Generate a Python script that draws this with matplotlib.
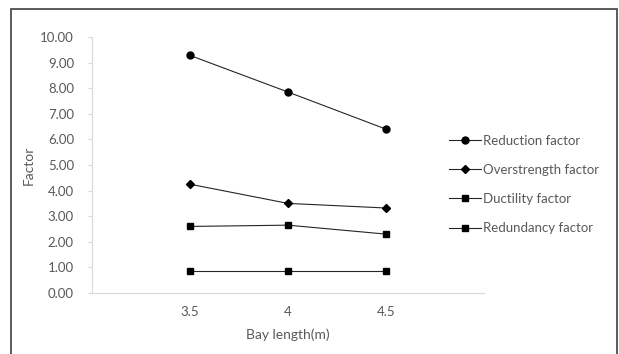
import matplotlib
matplotlib.use("Agg")
import matplotlib.pyplot as plt
from matplotlib.patches import Rectangle

# dados
bay_length = [3.5, 4.0, 4.5]
reduction = [9.28, 7.85, 6.40]
overstrength = [4.25, 3.50, 3.32]
ductility = [2.60, 2.65, 2.30]
redundancy = [0.85, 0.85, 0.85]

series = [
    ("Reduction factor", reduction, "o", 5.0),
    ("Overstrength factor", overstrength, "D", 3.6),
    ("Ductility factor", ductility, "s", 5.0),
    ("Redundancy factor", redundancy, "s", 5.0),
]

plt.rcParams["font.family"] = ["Lato", "DejaVu Sans"]
cinza = "#595959"

fig = plt.figure(figsize=(6.19, 3.54), dpi=100, facecolor="white")
ax = fig.add_axes([0.1486, 0.1723, 0.782 - 0.1486, 0.8955 - 0.1723])

for nome, valores, marcador, tam in series:
    ax.plot(bay_length, valores, color="#262626", linewidth=0.8,
            marker=marcador, markersize=tam, markerfacecolor="black",
            markeredgecolor="black", label=nome)

ax.set_xlim(3.0, 5.0)
ax.set_ylim(0, 10)
ax.set_xticks(bay_length)
ax.set_xticklabels(["3.5", "4", "4.5"])
ax.set_yticks(range(0, 11))
ax.set_yticklabels([f"{v:.2f}" for v in range(0, 11)])

for lado in ["top", "right"]:
    ax.spines[lado].set_visible(False)
for lado in ["left", "bottom"]:
    ax.spines[lado].set_color("#d9d9d9")
    ax.spines[lado].set_linewidth(0.8)

ax.tick_params(axis="y", colors=cinza, labelsize=9.5, length=3, width=0.8,
               color="#d9d9d9", pad=10)
ax.tick_params(axis="x", colors=cinza, labelsize=9.5, length=0, pad=9)
ax.set_xlabel("Bay length(m)", color=cinza, fontsize=10, labelpad=8)
ax.set_ylabel("Factor", color=cinza, fontsize=10, labelpad=4)

fig.legend(loc="center left", bbox_to_anchor=(0.706, 0.479), frameon=False,
           fontsize=9.5, handlelength=2.4, handletextpad=0.2, labelspacing=1.3,
           labelcolor=cinza)

# moldura externa
fig.patches.append(Rectangle((11 / 619, -0.01), (617 - 11) / 619, 1 - 9 / 354 + 0.01,
                             transform=fig.transFigure, fill=False,
                             edgecolor="#404040", linewidth=1.2))

fig.savefig("out.png", dpi=100)
